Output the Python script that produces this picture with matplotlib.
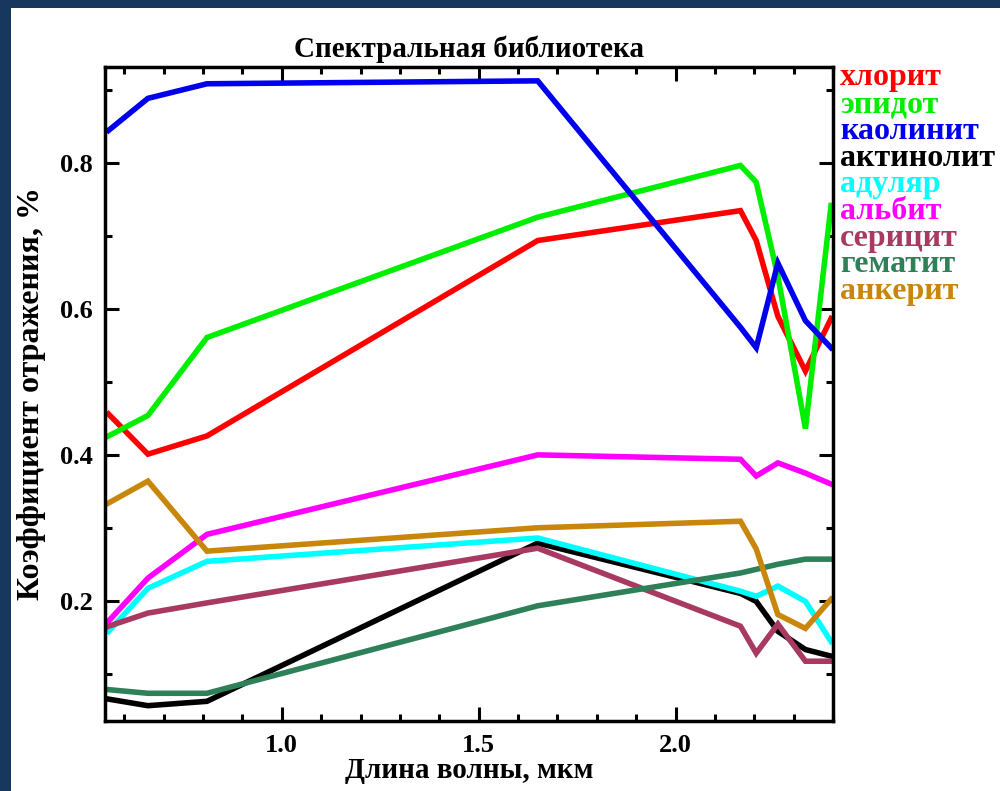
import matplotlib
matplotlib.use("Agg")
import matplotlib.pyplot as plt
from matplotlib.patches import Rectangle
from matplotlib.ticker import MultipleLocator

# ASTER band centres, um
wavelength = [0.56, 0.66, 0.81, 1.65, 2.165, 2.205, 2.26, 2.33, 2.395]

chlorite = [0.456, 0.401, 0.426, 0.694, 0.735, 0.694, 0.590, 0.515, 0.587]
epidote = [0.426, 0.454, 0.561, 0.726, 0.797, 0.774, 0.645, 0.436, 0.742]
kaolinite = [0.845, 0.889, 0.909, 0.913, 0.575, 0.547, 0.663, 0.584, 0.547]
actinolite = [0.065, 0.056, 0.062, 0.279, 0.210, 0.199, 0.158, 0.133, 0.124]
adularia = [0.158, 0.217, 0.254, 0.286, 0.213, 0.206, 0.220, 0.199, 0.144]
albite = [0.172, 0.231, 0.291, 0.400, 0.394, 0.371, 0.389, 0.375, 0.360]
sericite = [0.165, 0.183, 0.197, 0.272, 0.165, 0.128, 0.168, 0.117, 0.117]
hematite = [0.078, 0.073, 0.073, 0.193, 0.238, 0.243, 0.250, 0.257, 0.257]
ankerite = [0.334, 0.364, 0.268, 0.300, 0.309, 0.271, 0.181, 0.162, 0.202]

names = ["хлорит", "эпидот", "каолинит", "актинолит", "адуляр",
         "альбит", "серицит", "гематит", "анкерит"]
series = [chlorite, epidote, kaolinite, actinolite, adularia,
          albite, sericite, hematite, ankerite]
colors = ["#ff0000", "#00ee00", "#0000ee", "#000000", "#00ffff",
          "#ff00ff", "#a83a62", "#2e8058", "#c8860b"]

serif = ["Liberation Serif", "DejaVu Serif"]

fig = plt.figure(figsize=(10, 7.91), dpi=100)
fig.patch.set_facecolor("#17375e")
fig.patches.append(Rectangle((11 / 1000, 0), 1, 1 - 8 / 791,
                             transform=fig.transFigure, facecolor="white",
                             edgecolor="none", zorder=-5))

ax = fig.add_axes([105 / 1000, 1 - 721 / 791, 728 / 1000, 654 / 791])
ax.set_zorder(2)
for vals, c in zip(series, colors):
    ax.plot(wavelength, vals, color=c, lw=4, solid_joinstyle="miter")

ax.set_xlim(0.551, 2.40)
ax.set_ylim(0.035, 0.932)
ax.xaxis.set_major_locator(MultipleLocator(0.5))
ax.xaxis.set_minor_locator(MultipleLocator(0.1))
ax.yaxis.set_major_locator(MultipleLocator(0.2))
ax.yaxis.set_minor_locator(MultipleLocator(0.1))
ax.tick_params(which="both", direction="in", top=True, right=True, width=2.2)
ax.tick_params(which="major", length=10, pad=9)
ax.tick_params(which="minor", length=5)
for s in ax.spines.values():
    s.set_linewidth(2.5)
for lab in ax.get_xticklabels() + ax.get_yticklabels():
    lab.set_family(serif)
    lab.set_fontweight("bold")
    lab.set_fontsize(19)

ax.set_title("Спектральная библиотека", family=serif, fontweight="bold",
             fontsize=21, pad=7)
ax.set_xlabel("Длина волны, мкм", family=serif, fontweight="bold",
              fontsize=21, labelpad=0)
ax.set_ylabel("Коэффициент отражения, %", family=serif, fontweight="bold",
              fontsize=23, labelpad=10)

for i, (name, c) in enumerate(zip(names, colors)):
    fig.text(840 / 1000, 1 - (78 + i * 26.7) / 791, name, color=c,
             family=serif, fontweight="bold", fontsize=23, va="center")

fig.savefig("out.png", dpi=100, facecolor=fig.get_facecolor())
